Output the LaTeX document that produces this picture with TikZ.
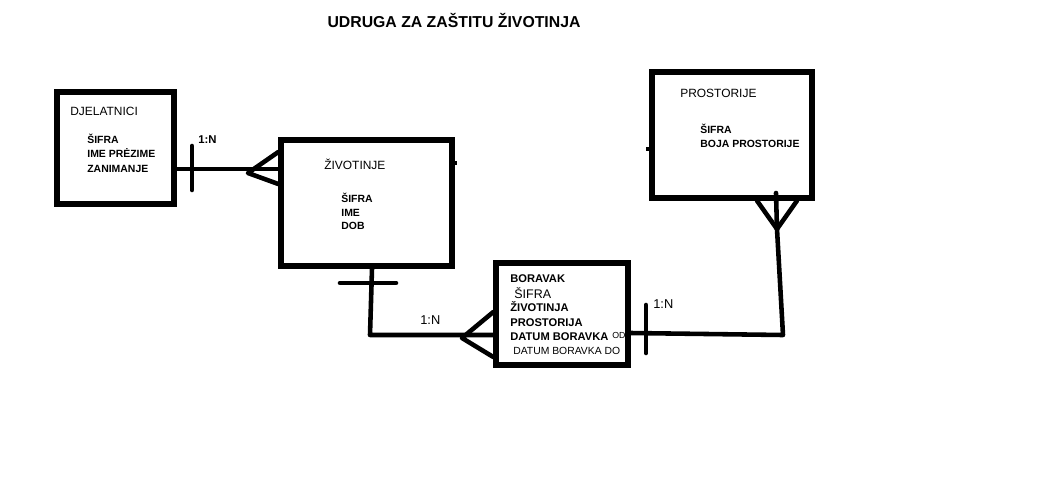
\documentclass[tikz,border=0pt]{standalone}
\usepackage{fontspec}
\setmainfont{Liberation Sans}
\usetikzlibrary{positioning}

\begin{document}
\begin{tikzpicture}[
  x=0.02cm, y=-0.02cm,
  entity/.style={draw, line width=3.1pt, inner sep=0pt},
  ename/.style={anchor=base west, inner sep=0pt, font=\fontsize{6.8}{8}\selectfont},
  attr/.style={anchor=base west, inner sep=0pt, font=\fontsize{5.95}{7}\selectfont\bfseries},
  battr/.style={anchor=base west, inner sep=0pt, font=\fontsize{6.35}{7.5}\selectfont\bfseries},
  card/.style={anchor=base west, inner sep=0pt, font=\fontsize{7.3}{8.5}\selectfont},
  link/.style={line width=2.6pt, line cap=round, line join=round},
]
  \useasboundingbox (0,0) rectangle (1046,481);

  % title
  \node[anchor=base, inner sep=0pt, font=\fontsize{9}{11}\selectfont\bfseries] (title) at (454,27) {UDRUGA ZA ZAŠTITU ŽIVOTINJA};

  % entities
  \node[entity, minimum width=2.34cm, minimum height=2.24cm] (djel) at (115.5,148) {};
  \node[entity, minimum width=3.42cm, minimum height=2.52cm] (ziv) at (366.5,203) {};
  \node[entity, minimum width=3.2cm, minimum height=2.52cm] (pros) at (732,135) {};
  \node[entity, minimum width=2.64cm, minimum height=2.04cm] (bor) at (562,314) {};

  % little stubs on the borders
  \draw[line width=2pt] (ziv.east |- 0,163) -- ++(-3,0) -- ++(5,0);
  \draw[line width=2pt] (pros.west |- 0,149) -- ++(3,0) -- ++(-6,0);

  % texts DJELATNICI
  \node[ename] (djelname) at (70,115) {DJELATNICI};
  \node[attr] (djel1) at (87,143) {ŠIFRA};
  \node[attr] (djel2) at (87,157) {IME PRĖZIME};
  \node[attr] (djel3) at (87,172) {ZANIMANJE};

  % texts ZIVOTINJE
  \node[ename] (zivname) at (324,169) {ŽIVOTINJE};
  \node[attr] (ziv1) at (341,202) {ŠIFRA};
  \node[attr] (ziv2) at (341,216) {IME};
  \node[attr] (ziv3) at (341,229) {DOB};

  % texts PROSTORIJE
  \node[ename] (prosname) at (680,97) {PROSTORIJE};
  \node[attr] (pros1) at (700,133) {ŠIFRA};
  \node[attr] (pros2) at (700,147) {BOJA PROSTORIJE};

  % texts BORAVAK
  \node[battr] (borname) at (510,282) {BORAVAK};
  \node[ename, font=\fontsize{7.1}{8}\selectfont] (bor1) at (514,298) {ŠIFRA};
  \node[battr] (bor2) at (510,311) {ŽIVOTINJA};
  \node[battr] (bor3) at (510,326) {PROSTORIJA};
  \node[battr] (bor4) at (510,340) {DATUM BORAVKA};
  \node[ename, font=\fontsize{5}{6}\selectfont] (bor4b) at (612,338) {OD};
  \node[ename, font=\fontsize{5.9}{7}\selectfont] (bor5) at (513,354) {DATUM BORAVKA DO};

  % DJELATNICI -- ZIVOTINJE
  \coordinate (cf1) at (248,173);
  \draw[link] (djel.east |- 0,169) -- (ziv.west |- 0,169);
  \draw[link] (192,146) -- (192,190);
  \draw[link] (ziv.west |- 0,152) -- (cf1) -- (ziv.west |- 0,184);
  \node[card, font=\fontsize{6.45}{7.5}\selectfont\bfseries] (c1) at (198,143) {1:N};

  % ZIVOTINJE -- BORAVAK
  \coordinate (k1) at (370,335);
  \coordinate (cf2) at (462,338);
  \draw[link] (ziv.south -| 372,0) -- (k1) -- (bor.west |- 0,335);
  \draw[link] (340,283) -- (396,283);
  \draw[link] (bor.west |- 0,312) -- (cf2) -- (bor.west |- 0,357);
  \node[card] (c2) at (420,324) {1:N};

  % BORAVAK -- PROSTORIJE
  \coordinate (k2) at (783,335);
  \coordinate (cf3) at (777,229);
  \draw[link] (bor.east |- 0,333) -- (k2) -- (cf3);
  \draw[link] (646,305) -- (646,353);
  \draw[link] (pros.south -| 757,0) -- (cf3) -- (pros.south -| 797,0);
  \draw[link] (cf3) -- (776,193);
  \node[card] (c3) at (653,308) {1:N};
\end{tikzpicture}
\end{document}
